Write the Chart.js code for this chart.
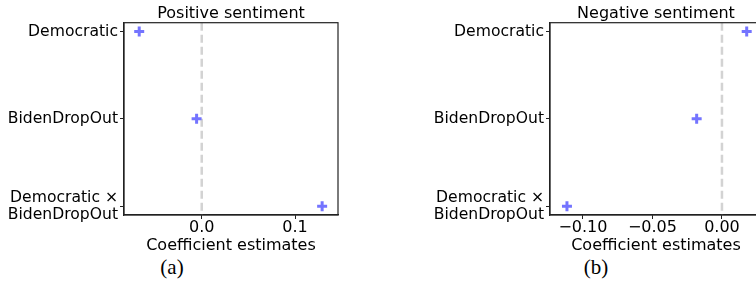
<!DOCTYPE html>
<html>
<head>
<meta charset="utf-8">
<script src="https://cdn.jsdelivr.net/npm/chart.js@4"></script>
<style>
  html, body { margin: 0; padding: 0; background: #fff; overflow: hidden; }
  body { width: 756px; height: 285px; position: relative; }
  canvas { position: absolute; top: 0; }
  #posChart { left: 0; }
  #negChart { left: 378px; }
  .caption { position: absolute; top: 255px; font-family: "Liberation Serif", serif; font-size: 21px; color: #000; transform: translateX(-50%); }
</style>
</head>
<body>
<canvas id="posChart" width="378" height="255"></canvas>
<canvas id="negChart" width="400" height="255"></canvas>
<div class="caption" style="left:172px">(a)</div>
<div class="caption" style="left:596px">(b)</div>
<script>
// terms, top to bottom
const terms = ['Democratic', 'BidenDropOut', ['Democratic \u00d7', 'BidenDropOut']];
const termPos = [0, 1, 2];

// coefficient estimates
const positiveCoef = [-0.067, -0.0055, 0.129];
const negativeCoef = [0.0178, -0.0182, -0.1115];

// x axis ticks
const posTicks = [0, 0.1];
const posTickLabels = ['0.0', '0.1'];
const negTicks = [-0.10, -0.05, 0.00];
const negTickLabels = ['\u22120.10', '\u22120.05', '0.00'];

// axis ranges
const posRange = [-0.0833, 0.146];
const negRange = [-0.1237, 0.0288];
const yRange = [-0.1, 2.1];

const font = { family: 'DejaVu Sans', size: 16 };

// top/right spines plus the panel title centred on the plot area
const frame = {
    id: 'frame',
    afterDatasetsDraw(chart, args, opts) {
        const { ctx, chartArea: a } = chart;
        ctx.save();
        ctx.strokeStyle = '#222';
        ctx.lineWidth = 1.2;
        ctx.strokeRect(a.left, a.top, a.right - a.left, a.bottom - a.top);
        ctx.fillStyle = '#000';
        ctx.font = '16px "DejaVu Sans"';
        ctx.textAlign = 'center';
        ctx.textBaseline = 'alphabetic';
        ctx.fillText(opts.text, (a.left + a.right) / 2, 17.5);
        ctx.restore();
    }
};

function makeChart(id, title, coef, range, ticks, tickLabels, yWidth, padRight) {
    const ctx = document.getElementById(id).getContext('2d');
    return new Chart(ctx, {
        type: 'scatter',
        data: {
            datasets: [{
                data: coef.map((v, i) => ({ x: v, y: termPos[i] })),
                pointStyle: 'cross',
                pointRadius: 5,
                borderWidth: 3,
                borderColor: '#7474ff',
                backgroundColor: '#7474ff',
                order: 1
            }, {
                type: 'line',
                data: [{ x: 0, y: yRange[0] }, { x: 0, y: yRange[1] }],
                borderColor: '#d3d3d3',
                borderWidth: 2.5,
                borderDash: [8, 4],
                pointRadius: 0,
                order: 2
            }]
        },
        options: {
            responsive: false,
            animation: false,
            devicePixelRatio: 1,
            layout: { padding: { top: 22.7, right: padRight, left: 0, bottom: 0 } },
            plugins: {
                legend: { display: false },
                tooltip: { enabled: false },
                title: { display: false },
                frame: { text: title }
            },
            scales: {
                x: {
                    type: 'linear',
                    min: range[0],
                    max: range[1],
                    afterBuildTicks: axis => { axis.ticks = ticks.map(v => ({ value: v })); },
                    afterFit: axis => { axis.height = 40; },
                    ticks: {
                        color: '#000',
                        font: { ...font, lineHeight: 1.05 },
                        padding: 0,
                        maxRotation: 0,
                        callback: (v, i) => tickLabels[i]
                    },
                    grid: { drawOnChartArea: false, tickLength: 4, color: '#222', tickWidth: 1 },
                    border: { color: '#222', width: 1.2 },
                    title: {
                        display: true,
                        text: 'Coefficient estimates',
                        color: '#000',
                        font: font,
                        padding: { top: 0, bottom: 0 }
                    }
                },
                y: {
                    type: 'linear',
                    reverse: true,
                    min: yRange[0],
                    max: yRange[1],
                    afterBuildTicks: axis => { axis.ticks = termPos.map(v => ({ value: v })); },
                    afterFit: axis => { axis.width = yWidth; },
                    ticks: {
                        color: '#000',
                        font: { family: 'DejaVu Sans', size: 15.6, lineHeight: 1.07 },
                        padding: 2,
                        callback: (v, i) => terms[i]
                    },
                    grid: { drawOnChartArea: false, tickLength: 4, color: '#222', tickWidth: 1 },
                    border: { color: '#222', width: 1.2 }
                }
            }
        },
        plugins: [frame]
    });
}

makeChart('posChart', 'Positive sentiment', positiveCoef, posRange, posTicks, posTickLabels, 124, 40);
makeChart('negChart', 'Negative sentiment', negativeCoef, negRange, negTicks, negTickLabels, 172, 16);
</script>
</body>
</html>
